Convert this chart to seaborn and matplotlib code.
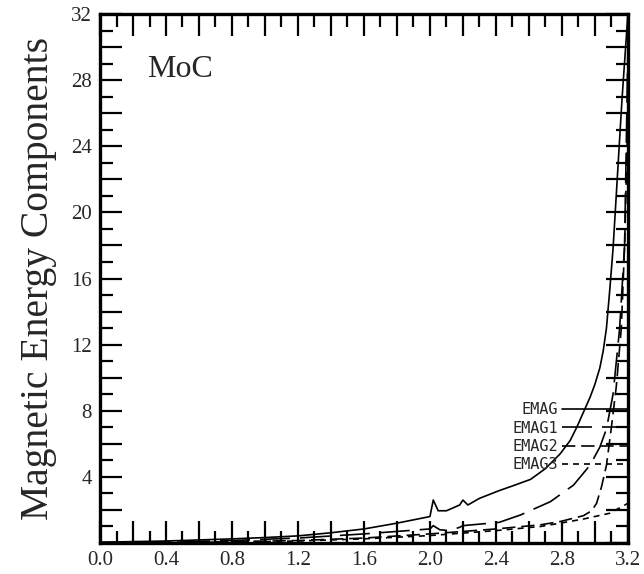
import numpy as np
import pandas as pd
import matplotlib
matplotlib.use("Agg")
import matplotlib.pyplot as plt
import seaborn as sns
from matplotlib.ticker import MultipleLocator, FuncFormatter

# data
series_names = ["EMAG", "EMAG1", "EMAG2", "EMAG3"]

emag_x = [0.0, 0.4, 0.8, 1.0, 1.2, 1.4, 1.6, 1.8, 2.0, 2.02, 2.05, 2.1, 2.18, 2.2,
          2.23, 2.3, 2.42, 2.5, 2.61, 2.7, 2.79, 2.85, 2.89, 2.93, 2.97, 3.0,
          3.03, 3.05, 3.07, 3.09, 3.11, 3.137, 3.164, 3.2]
emag_y = [0.05, 0.12, 0.25, 0.33, 0.43, 0.62, 0.85, 1.2, 1.6, 2.6, 1.95, 1.95, 2.3, 2.6,
          2.3, 2.7, 3.17, 3.45, 3.85, 4.5, 5.4, 6.2, 7.0, 7.9, 8.8, 9.6,
          10.6, 11.6, 13.0, 15.3, 17.8, 22.3, 26.8, 32.0]

emag1_x = [0.0, 0.4, 0.8, 1.2, 1.6, 2.0, 2.02, 2.06, 2.12, 2.18, 2.2, 2.42, 2.55, 2.73,
           2.87, 2.97, 3.03, 3.07, 3.11, 3.15, 3.18, 3.2]
emag1_y = [0.02, 0.06, 0.15, 0.3, 0.55, 0.85, 1.05, 0.8, 0.75, 0.95, 1.05, 1.25, 1.7, 2.5,
           3.5, 4.7, 5.8, 6.9, 9.0, 13.0, 18.0, 30.0]

emag2_x = [0.0, 0.4, 0.8, 1.2, 1.6, 2.0, 2.4, 2.67, 2.79, 2.93, 2.98, 3.01, 3.04, 3.07,
           3.1, 3.13, 3.16, 3.18, 3.2]
emag2_y = [0.0, 0.03, 0.08, 0.15, 0.3, 0.55, 0.85, 1.1, 1.3, 1.65, 1.95, 2.4, 3.4, 4.7,
           7.0, 9.5, 13.0, 18.0, 26.0]

emag3_x = [0.0, 0.4, 0.8, 1.2, 1.6, 2.0, 2.4, 2.67, 2.79, 2.93, 3.09, 3.2]
emag3_y = [0.0, 0.02, 0.06, 0.12, 0.25, 0.45, 0.75, 1.0, 1.2, 1.45, 1.8, 2.4]

df = pd.concat([
    pd.DataFrame({"x": emag_x, "y": emag_y, "series": "EMAG"}),
    pd.DataFrame({"x": emag1_x, "y": emag1_y, "series": "EMAG1"}),
    pd.DataFrame({"x": emag2_x, "y": emag2_y, "series": "EMAG2"}),
    pd.DataFrame({"x": emag3_x, "y": emag3_y, "series": "EMAG3"}),
], ignore_index=True)

sns.set_style("ticks")
plt.rcParams["font.family"] = ["Liberation Serif", "DejaVu Serif"]

fig = plt.figure(figsize=(6.44, 5.74), dpi=100)
ax = fig.add_axes([0.1553, 0.054, 0.8197, 0.9216])

dash_styles = {"EMAG": "", "EMAG1": (18, 6), "EMAG2": (8, 3.5), "EMAG3": (3.6, 3)}
sns.lineplot(data=df, x="x", y="y", style="series", style_order=series_names,
             dashes=dash_styles, color="black", linewidth=1.2, estimator=None,
             sort=False, ax=ax)

ax.set_xlim(0, 3.2)
ax.set_ylim(0, 32)
ax.set_xlabel("")
ax.set_ylabel("Magnetic Energy Components", fontsize=28.5, labelpad=10)

ax.xaxis.set_major_locator(MultipleLocator(0.2))
ax.xaxis.set_minor_locator(MultipleLocator(0.1))
ax.yaxis.set_major_locator(MultipleLocator(2))
ax.yaxis.set_minor_locator(MultipleLocator(1))
ax.xaxis.set_major_formatter(FuncFormatter(
    lambda v, p: f"{v:.1f}" if abs(round(v / 0.4) * 0.4 - v) < 1e-6 else ""))
ax.yaxis.set_major_formatter(FuncFormatter(
    lambda v, p: f"{v:.0f}" if v > 0 and round(v) % 4 == 0 else ""))

ax.tick_params(which="both", direction="in", top=True, right=True, width=1.6,
               color="black", labelsize=15, pad=6)
ax.tick_params(which="major", length=16)
ax.tick_params(which="minor", length=9)
for s in ax.spines.values():
    s.set_linewidth(2.4)
    s.set_color("black")

ax.text(0.09, 0.895, "MoC", transform=ax.transAxes, fontsize=23, va="center")

handles, labels = ax.get_legend_handles_labels()
leg = ax.legend(handles, labels, loc="center right", bbox_to_anchor=(1.0, 0.2),
                markerfirst=False, frameon=False, handlelength=4.3,
                handletextpad=0.25, borderpad=0, borderaxespad=0,
                labelspacing=0.22,
                prop={"family": "DejaVu Sans Mono", "size": 11})
for line in leg.get_lines():
    line.set_linewidth(1.2)

fig.savefig("out.png", dpi=100)
